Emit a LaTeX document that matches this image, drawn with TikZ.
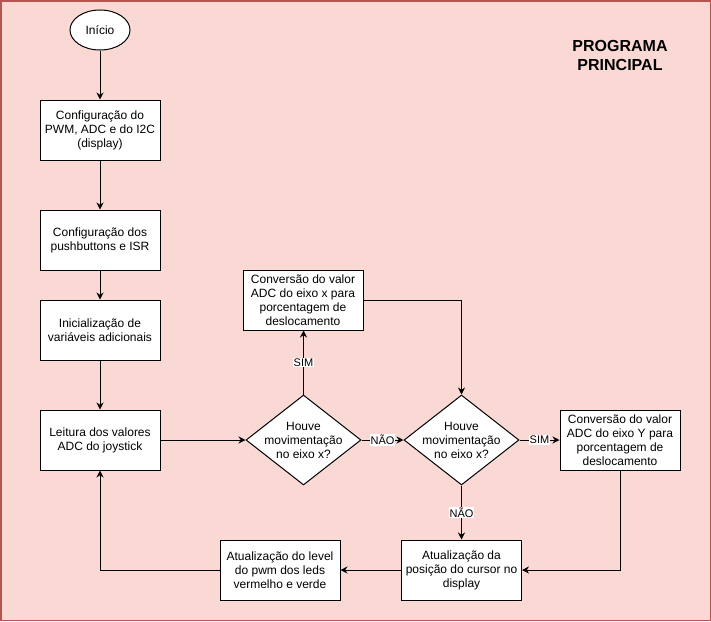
\documentclass[tikz,border=0pt]{standalone}
\usepackage{fontspec}
\setmainfont{Liberation Sans}
\usetikzlibrary{shapes.geometric,arrows.meta}
\definecolor{bgpink}{HTML}{FAD9D5}
\definecolor{bgred}{HTML}{B85450}
\begin{document}
\begin{tikzpicture}[x=1pt,y=-1pt,
  box/.style={draw=black,fill=white,line width=1pt,minimum width=120pt,minimum height=60pt,
    align=center,font=\fontsize{12}{14}\selectfont,inner sep=1pt},
  startnode/.style={ellipse,draw=black,fill=white,line width=1pt,minimum width=60pt,minimum height=40pt,
    inner sep=0pt,font=\fontsize{12}{14}\selectfont},
  dshape/.style={diamond,draw=black,fill=white,line width=1pt,minimum width=115pt,minimum height=90pt,inner sep=0pt},
  dtext/.style={align=center,font=\fontsize{12}{14}\selectfont,inner sep=0pt},
  arr/.style={draw=black,line width=1pt,-{Stealth[length=7pt,width=7pt]}},
  lbl/.style={fill=white,inner sep=1pt,font=\fontsize{11}{12}\selectfont}]
\useasboundingbox (0,0) rectangle (711,621);
\fill[bgpink] (0,0) rectangle (711,621);
\draw[bgred,line width=1.5pt] (0.75,0.75) rectangle (710.25,620.25);

\node[font=\bfseries\fontsize{16}{19}\selectfont,align=center] (title) at (620,55) {PROGRAMA\\PRINCIPAL};

\node[startnode] (start) at (100,30) {Início};
\node[box] (pwm) at (100,130) {Configuração do\\PWM, ADC e do I2C\\(display)};
\node[box] (push) at (100,240) {Configuração dos\\pushbuttons e ISR};
\node[box] (init) at (100,330) {Inicialização de\\variáveis adicionais};
\node[box] (leit) at (100,440) {Leitura dos valores\\ADC do joystick};
\node[box] (cx) at (303,300) {Conversão do valor\\ADC do eixo x para\\porcentagem de\\deslocamento};
\node[dshape] (d1) at (303.5,440) {};
\node[dtext] (d1t) at (d1.center) {Houve\\movimentação\\no eixo x?};
\node[dshape] (d2) at (461.5,440) {};
\node[dtext] (d2t) at (d2.center) {Houve\\movimentação\\no eixo x?};
\node[box] (cy) at (620,440) {Conversão do valor\\ADC do eixo Y para\\porcentagem de\\deslocamento};
\node[box] (ap) at (461.5,570) {Atualização da\\posição do cursor no\\display};
\node[box] (al) at (280,570) {Atualização do level\\do pwm dos leds\\vermelho e verde};

\draw[arr] (start) -- (pwm);
\draw[arr] (pwm) -- (push);
\draw[arr] (push) -- (init);
\draw[arr] (init) -- (leit);
\draw[arr] (leit) -- (d1.west);
\draw[arr] (d1.north) -- node[lbl] (l1) {SIM} (d1.north |- cx.south);
\draw[arr] (cx.east) -| (d2.north);
\draw[arr] (d1.east) -- node[lbl] (l2) {NÃO} (d2.west);
\draw[arr] (d2.east) -- node[lbl] (l3) {SIM} (cy.west);
\draw[arr] (d2.south) -- node[lbl] (l4) {NÃO} (ap.north);
\draw[arr] (cy.south) |- (ap.east);
\draw[arr] (ap.west) -- (al.east);
\draw[arr] (al.west) -| (leit.south);
\end{tikzpicture}
\end{document}
